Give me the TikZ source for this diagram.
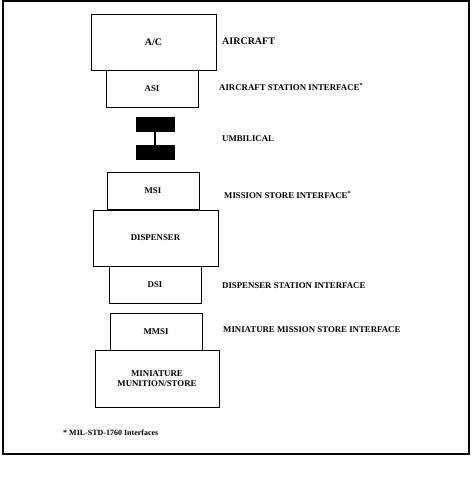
\documentclass[tikz,border=0pt]{standalone}
\usepackage{fontspec}
\setmainfont{Liberation Serif}
\usetikzlibrary{positioning}

\begin{document}
\begin{tikzpicture}[x=1pt, y=-1pt,
    unit/.style={draw, line width=1pt, inner sep=0pt, align=center, font=\fontsize{8.8}{9.8}\selectfont\bfseries},
    bigunit/.style={unit, minimum width=125pt, minimum height=56pt},
    iface/.style={unit, minimum width=92pt, minimum height=37pt},
    plug/.style={fill=black, draw=black, minimum width=38pt, minimum height=14pt, inner sep=0pt},
    lbl/.style={anchor=west, inner sep=0pt, font=\fontsize{8.8}{9.8}\selectfont\bfseries}]
    \useasboundingbox (0,0) rectangle (474,485);
    \draw[line width=1.2pt] (3,1) rectangle (469,454);

    % stack of units
    \node[bigunit, font=\fontsize{10}{11}\selectfont\bfseries] (ac) at (153.5,42) {A/C};
    \node[iface] (asi) at (152,88.5) {ASI};
    \node[plug] (umbtop) at (155,124.5) {};
    \node[plug] (umbbot) at (155,152) {};
    \node[iface] (msi) at (153,191) {MSI};
    \node[bigunit] (disp) at (155.5,238) {DISPENSER};
    \node[iface] (dsi) at (155,284.5) {DSI};
    \node[iface] (mmsi) at (156,331.5) {MMSI};
    \node[bigunit, minimum width=124pt, minimum height=57pt] (mms) at (157,378.5) {MINIATURE\\MUNITION/STORE};

    \draw[line width=1.5pt] (umbtop) -- (umbbot);

    % labels on the right
    \node[lbl, font=\fontsize{10}{11}\selectfont\bfseries] (acl) at (222,41) {AIRCRAFT};
    \node[lbl] (asil) at (219,87) {AIRCRAFT STATION INTERFACE\textsuperscript{*}};
    \node[lbl] (umbl) at (222,139) {UMBILICAL};
    \node[lbl] (msil) at (224,195) {MISSION STORE INTERFACE\textsuperscript{*}};
    \node[lbl] (dsil) at (222,286) {DISPENSER STATION INTERFACE};
    \node[lbl] (mmsil) at (223,330) {MINIATURE MISSION STORE INTERFACE};

    \node[lbl, font=\fontsize{8}{9}\selectfont\bfseries] (note) at (63,433) {* MIL-STD-1760 Interfaces};
\end{tikzpicture}
\end{document}
